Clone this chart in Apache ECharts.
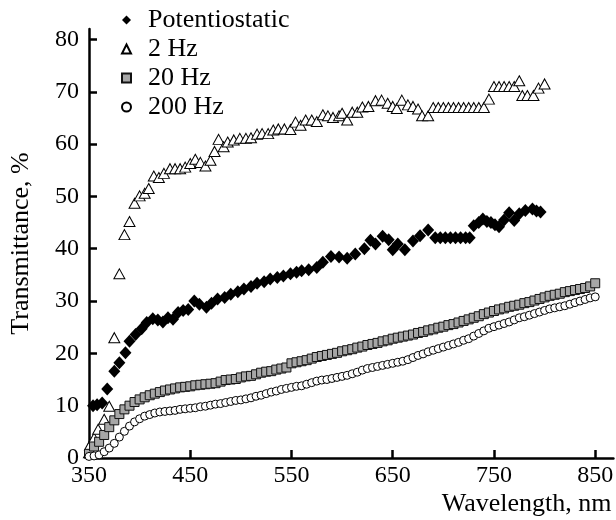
<!DOCTYPE html>
<html>
<head>
<meta charset="utf-8">
<script src="https://cdn.jsdelivr.net/npm/echarts@6/dist/echarts.min.js"></script>
<style>
  html, body { margin: 0; padding: 0; background: #fff; }
  #chart { width: 616px; height: 520px; }
</style>
</head>
<body>
<div id="chart"></div>
<script>
// tick labels
const xTicks = [350, 450, 550, 650, 750, 850];
const yTicks = [0, 10, 20, 30, 40, 50, 60, 70, 80];
const seriesNames = ['Potentiostatic', '2 Hz', '20 Hz', '200 Hz'];

// [wavelength nm, transmittance %]
const potentiostatic = [
  [354, 10.0], [358, 10.2], [363, 10.5], [368, 13.2], [375, 16.6], [380, 18.2], [386, 20.1],
  [390, 22.3], [396, 23.6], [402, 24.7], [407, 25.9], [413, 26.6], [418, 26.4], [423, 26.0],
  [428, 26.8], [433, 26.5], [438, 27.8], [443, 28.2], [448, 28.4], [454, 30.0], [459, 29.4],
  [466, 28.8], [471, 29.6], [477, 30.4], [484, 30.7], [490, 31.3], [497, 31.8], [503, 32.3],
  [510, 32.8], [516, 33.4], [523, 33.7], [529, 34.2], [536, 34.5], [542, 34.8], [549, 35.2],
  [555, 35.5], [560, 35.8], [567, 36.0], [575, 36.4], [581, 37.4], [589, 38.5], [597, 38.4],
  [605, 38.2], [613, 39.0], [622, 40.0], [628, 41.6], [633, 40.9], [640, 42.4], [646, 41.7],
  [650, 39.8], [655, 40.9], [662, 39.8], [670, 41.5], [677, 42.5], [685, 43.6], [692, 42.1],
  [697, 42.1], [702, 42.1], [707, 42.1], [712, 42.1], [717, 42.1], [722, 42.1], [726, 42.1],
  [730, 44.4], [735, 45.0], [739, 45.7], [743, 45.2], [747, 45.0], [751, 44.6], [755, 44.2],
  [760, 45.5], [765, 46.9], [770, 45.4], [775, 46.7], [781, 47.3], [788, 47.6], [792, 47.2],
  [796, 47.0]
];

const hz2 = [
  [350, 1.0], [351, 2.5], [355, 3.8], [359, 5.5], [365, 7.4], [370, 9.9], [375, 23.0],
  [380, 35.2], [385, 42.7], [390, 45.2], [395, 48.7], [400, 50.1], [405, 50.6], [409, 51.5],
  [414, 53.9], [419, 53.6], [424, 54.4], [430, 55.3], [435, 55.3], [440, 55.3], [445, 55.6],
  [450, 56.3], [455, 57.1], [460, 56.5], [465, 55.8], [470, 56.9], [474, 58.6], [478, 60.9],
  [483, 59.5], [487, 60.4], [493, 60.8], [499, 61.1], [505, 61.1], [510, 61.2], [516, 61.9],
  [521, 62.0], [527, 62.0], [532, 62.7], [537, 62.9], [543, 62.9], [549, 62.8], [554, 64.2],
  [559, 63.6], [564, 64.6], [570, 64.6], [575, 64.3], [581, 65.6], [586, 65.4], [591, 65.1],
  [597, 65.4], [600, 65.9], [605, 64.6], [610, 66.1], [615, 66.1], [620, 67.1], [626, 67.2],
  [633, 68.3], [639, 68.4], [645, 67.8], [650, 67.2], [654, 66.8], [659, 68.4], [665, 67.5],
  [670, 67.2], [675, 66.7], [679, 65.4], [685, 65.4], [690, 67.0], [695, 67.0], [700, 67.0],
  [705, 67.0], [710, 67.0], [715, 67.0], [720, 67.0], [725, 67.0], [730, 67.0], [735, 67.0],
  [740, 67.0], [745, 68.6], [750, 71.0], [755, 71.0], [760, 71.0], [765, 71.0], [770, 71.0],
  [775, 72.1], [778, 69.3], [783, 69.3], [789, 69.3], [794, 70.7], [800, 71.5]
];

// 20 Hz and 200 Hz: one value every 5 nm from 350 to 850
const wavelengths = [];
for (let w = 350; w <= 850; w += 5) wavelengths.push(w);

const hz20 = [
  0.8, 2.2, 3.1, 4.4, 5.9, 7.2, 8.4, 9.3, 10.0, 10.7,
  11.2, 11.6, 12.0, 12.3, 12.6, 12.9, 13.1, 13.3, 13.5, 13.6,
  13.7, 13.9, 14.0, 14.1, 14.2, 14.3, 14.6, 14.9, 15.0, 15.1,
  15.4, 15.6, 15.7, 16.0, 16.3, 16.5, 16.6, 16.9, 17.1, 17.3,
  18.1, 18.3, 18.5, 18.7, 19.0, 19.3, 19.5, 19.7, 19.9, 20.1,
  20.4, 20.6, 20.8, 21.1, 21.3, 21.6, 21.8, 22.0, 22.3, 22.5,
  22.8, 23.0, 23.2, 23.4, 23.6, 23.9, 24.1, 24.4, 24.6, 24.9,
  25.1, 25.4, 25.6, 25.9, 26.2, 26.5, 26.8, 27.1, 27.5, 27.8,
  28.1, 28.4, 28.6, 28.9, 29.1, 29.3, 29.6, 29.8, 30.1, 30.4,
  30.7, 31.0, 31.2, 31.4, 31.7, 31.9, 32.1, 32.3, 32.5, 32.8,
  33.4
];

const hz200 = [
  0.3, 0.4, 0.6, 1.2, 1.9, 2.8, 4.0, 5.1, 6.1, 6.9,
  7.5, 8.0, 8.3, 8.6, 8.8, 8.9, 9.0, 9.1, 9.3, 9.4,
  9.5, 9.6, 9.8, 9.9, 10.1, 10.3, 10.4, 10.6, 10.8, 11.0,
  11.1, 11.3, 11.5, 11.8, 12.0, 12.3, 12.6, 12.8, 13.1, 13.3,
  13.5, 13.7, 13.8, 14.1, 14.4, 14.7, 14.9, 15.0, 15.2, 15.4,
  15.6, 15.8, 16.1, 16.4, 16.8, 17.1, 17.3, 17.5, 17.7, 17.9,
  18.1, 18.3, 18.5, 18.8, 19.2, 19.6, 19.9, 20.3, 20.6, 20.9,
  21.2, 21.5, 21.8, 22.1, 22.5, 22.8, 23.3, 23.8, 24.3, 24.8,
  25.1, 25.4, 25.7, 26.0, 26.4, 26.8, 27.0, 27.3, 27.6, 27.9,
  28.2, 28.5, 28.7, 28.9, 29.1, 29.4, 29.7, 30.0, 30.3, 30.6,
  30.8
];

const font = 'Liberation Serif, Times New Roman, serif';
const chart = echarts.init(document.getElementById('chart'));

const option = {
  animation: false,
  backgroundColor: '#fff',
  textStyle: { fontFamily: font, color: '#000' },
  grid: { left: 83, right: 2, top: 29, bottom: 62 },
  legend: {
    orient: 'vertical',
    left: 116,
    top: 2,
    itemWidth: 9,
    itemHeight: 9,
    itemGap: 3,
    data: seriesNames,
    textStyle: { fontFamily: font, fontSize: 26, lineHeight: 26, color: '#000', padding: [0, 0, 0, 12] }
  },
  xAxis: {
    type: 'value',
    min: 350,
    max: 868,
    name: 'Wavelength, nm',
    nameLocation: 'end',
    nameGap: 0,
    nameTextStyle: { fontFamily: font, fontSize: 26, color: '#000', align: 'right', verticalAlign: 'top', padding: [33, 2, 0, 0] },
    splitLine: { show: false },
    axisLine: { lineStyle: { color: '#000', width: 2.5 } },
    axisTick: { inside: true, length: 8, customValues: xTicks, lineStyle: { color: '#000', width: 2.5 } },
    axisLabel: { customValues: xTicks, fontFamily: font, fontSize: 24, color: '#000', margin: 6 }
  },
  yAxis: {
    type: 'value',
    min: 0,
    max: 82,
    name: 'Transmittance, %',
    nameLocation: 'middle',
    nameGap: 55,
    nameTextStyle: { fontFamily: font, fontSize: 26, color: '#000' },
    splitLine: { show: false },
    axisLine: { show: true, lineStyle: { color: '#000', width: 2.5 } },
    axisTick: { show: true, inside: true, length: 8, customValues: yTicks, lineStyle: { color: '#000', width: 2.5 } },
    axisLabel: { customValues: yTicks, fontFamily: font, fontSize: 24, color: '#000', margin: 10 }
  },
  series: [
    {
      name: seriesNames[0],
      type: 'scatter',
      symbol: 'diamond',
      symbolSize: [12, 13],
      data: potentiostatic,
      itemStyle: { color: '#000', opacity: 1 }
    },
    {
      name: seriesNames[1],
      type: 'scatter',
      symbol: 'triangle',
      symbolSize: [11, 10],
      data: hz2,
      itemStyle: { color: '#fff', borderColor: '#000', borderWidth: 1, opacity: 1 }
    },
    {
      name: seriesNames[2],
      type: 'scatter',
      symbol: 'rect',
      symbolSize: 9,
      data: wavelengths.map((w, i) => [w, hz20[i]]),
      itemStyle: { color: '#a6a6a6', borderColor: '#111', borderWidth: 1, opacity: 1 }
    },
    {
      name: seriesNames[3],
      type: 'scatter',
      symbol: 'circle',
      symbolSize: 8,
      data: wavelengths.map((w, i) => [w, hz200[i]]),
      itemStyle: { color: '#fff', borderColor: '#000', borderWidth: 1, opacity: 1 }
    }
  ]
};

option && chart.setOption(option);
</script>
</body>
</html>
